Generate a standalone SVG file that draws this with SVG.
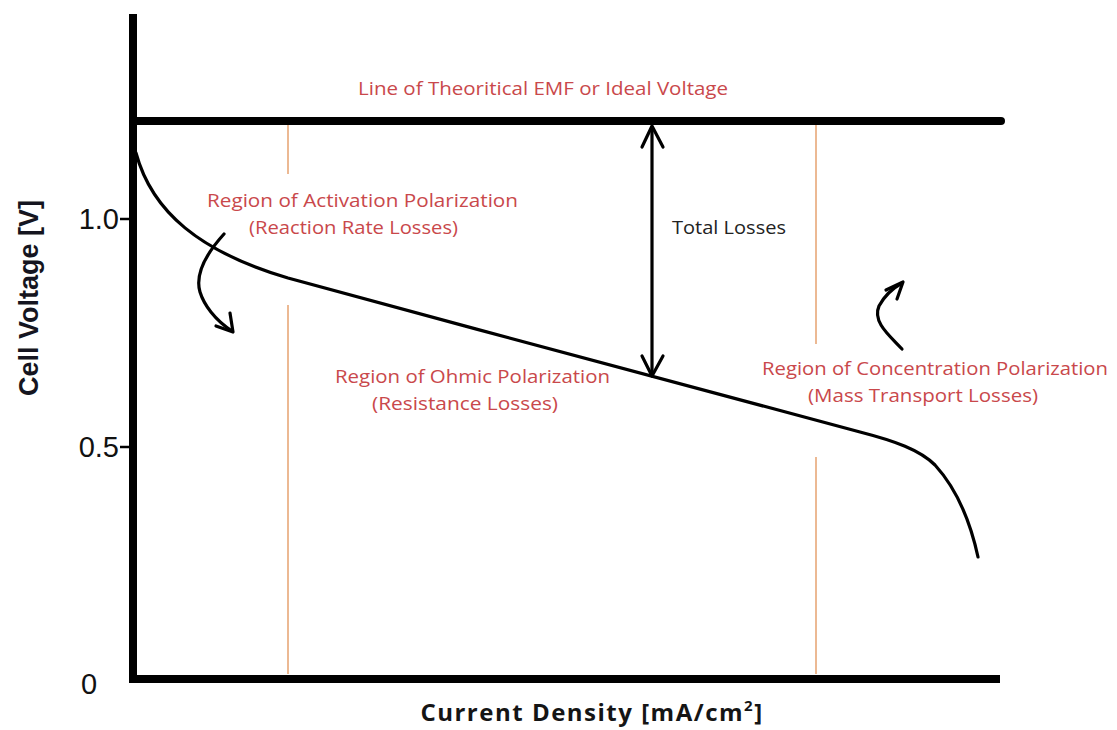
<svg xmlns="http://www.w3.org/2000/svg" width="1117" height="730" viewBox="0 0 1117 730">
  <style>
    .red { font-family: "Open Sans", "Liberation Sans", sans-serif; font-size: 18px; fill: #c9484b; }
    .dark { font-family: "Open Sans", "Liberation Sans", sans-serif; font-size: 18px; fill: #222222; }
    .num { font-family: "Liberation Sans", Arial, sans-serif; font-size: 29px; fill: #111111; }
    .axlab { font-family: "Liberation Sans", Arial, sans-serif; font-size: 27px; font-weight: bold; fill: #151520; }
    .xlab { font-family: "Open Sans", "Liberation Sans", sans-serif; font-size: 24px; font-weight: bold; fill: #151515; letter-spacing: 1.5px; }
    .axis { stroke: #000; stroke-width: 8; fill: none; }
    .guide { stroke: #e8a878; stroke-width: 1.6; fill: none; }
    .ink { stroke: #000; stroke-width: 3.2; fill: none; stroke-linecap: round; stroke-linejoin: round; }
  </style>
  <rect width="1117" height="730" fill="#ffffff"/>

  <g id="axes">
    <line class="axis" x1="133" y1="14" x2="133" y2="683"/>
    <line class="axis" x1="129" y1="679" x2="1000" y2="679"/>
    <line x1="120" y1="219" x2="133" y2="219" stroke="#000" stroke-width="2.5"/>
    <line x1="120" y1="447" x2="133" y2="447" stroke="#000" stroke-width="2.5"/>
    <text class="num" x="119" y="229" text-anchor="end">1.0</text>
    <text class="num" x="119" y="457" text-anchor="end">0.5</text>
    <text class="num" x="89" y="694" text-anchor="middle">0</text>
    <text class="axlab" transform="translate(38,298) rotate(-90)" text-anchor="middle">Cell Voltage [V]</text>
    <text class="xlab" x="592" y="721" text-anchor="middle">Current Density [mA/cm<tspan font-size="15" dy="-10">2</tspan><tspan dy="10">]</tspan></text>
  </g>

  <g id="emf-line">
    <line stroke="#000" stroke-width="8" stroke-linecap="round" x1="133" y1="121" x2="1001" y2="121"/>
    <text class="red" x="358" y="95" textLength="370" lengthAdjust="spacingAndGlyphs">Line of Theoritical EMF or Ideal Voltage</text>
  </g>

  <g id="region-guides">
    <line class="guide" x1="288" y1="125" x2="288" y2="174"/>
    <line class="guide" x1="288" y1="305" x2="288" y2="674"/>
    <line class="guide" x1="816" y1="125" x2="816" y2="344"/>
    <line class="guide" x1="816" y1="457" x2="816" y2="674"/>
  </g>

  <g id="polarization-curve">
    <path class="ink" d="M136,153 C152,212 200,252 288,278 C480,330 700,390 860,432 C895,441 920,450 935,465 C955,487 970,520 978,557"/>
  </g>

  <g id="activation-region">
    <text class="red" x="207" y="207" textLength="311" lengthAdjust="spacingAndGlyphs">Region of Activation Polarization</text>
    <text class="red" x="249" y="234" textLength="209" lengthAdjust="spacingAndGlyphs">(Reaction Rate Losses)</text>
  </g>

  <g id="total-losses">
    <text class="dark" x="672" y="234" textLength="114" lengthAdjust="spacingAndGlyphs">Total Losses</text>
  </g>

  <g id="ohmic-region">
    <text class="red" x="335" y="383" textLength="275" lengthAdjust="spacingAndGlyphs">Region of Ohmic Polarization</text>
    <text class="red" x="372" y="410" textLength="186" lengthAdjust="spacingAndGlyphs">(Resistance Losses)</text>
  </g>

  <g id="concentration-region">
    <text class="red" x="762" y="375" textLength="346" lengthAdjust="spacingAndGlyphs">Region of Concentration Polarization</text>
    <text class="red" x="808" y="402" textLength="230" lengthAdjust="spacingAndGlyphs">(Mass Transport Losses)</text>
  </g>

  <g id="connectors">
    <line class="ink" x1="652" y1="127" x2="652" y2="374"/>
    <polyline class="ink" points="642,147 652,126 663,147"/>
    <polyline class="ink" points="642,356 652,376 663,356"/>
    <path class="ink" d="M224,234 C205,255 195,275 200,292 C204,305 215,320 232,331"/>
    <polyline class="ink" points="216,326 233,332 230,313"/>
    <path class="ink" d="M902,349 C890,336 872,322 879,306 C885,295 893,288 902,283"/>
    <polyline class="ink" points="886,290 903,282 897,299"/>
  </g>
</svg>
